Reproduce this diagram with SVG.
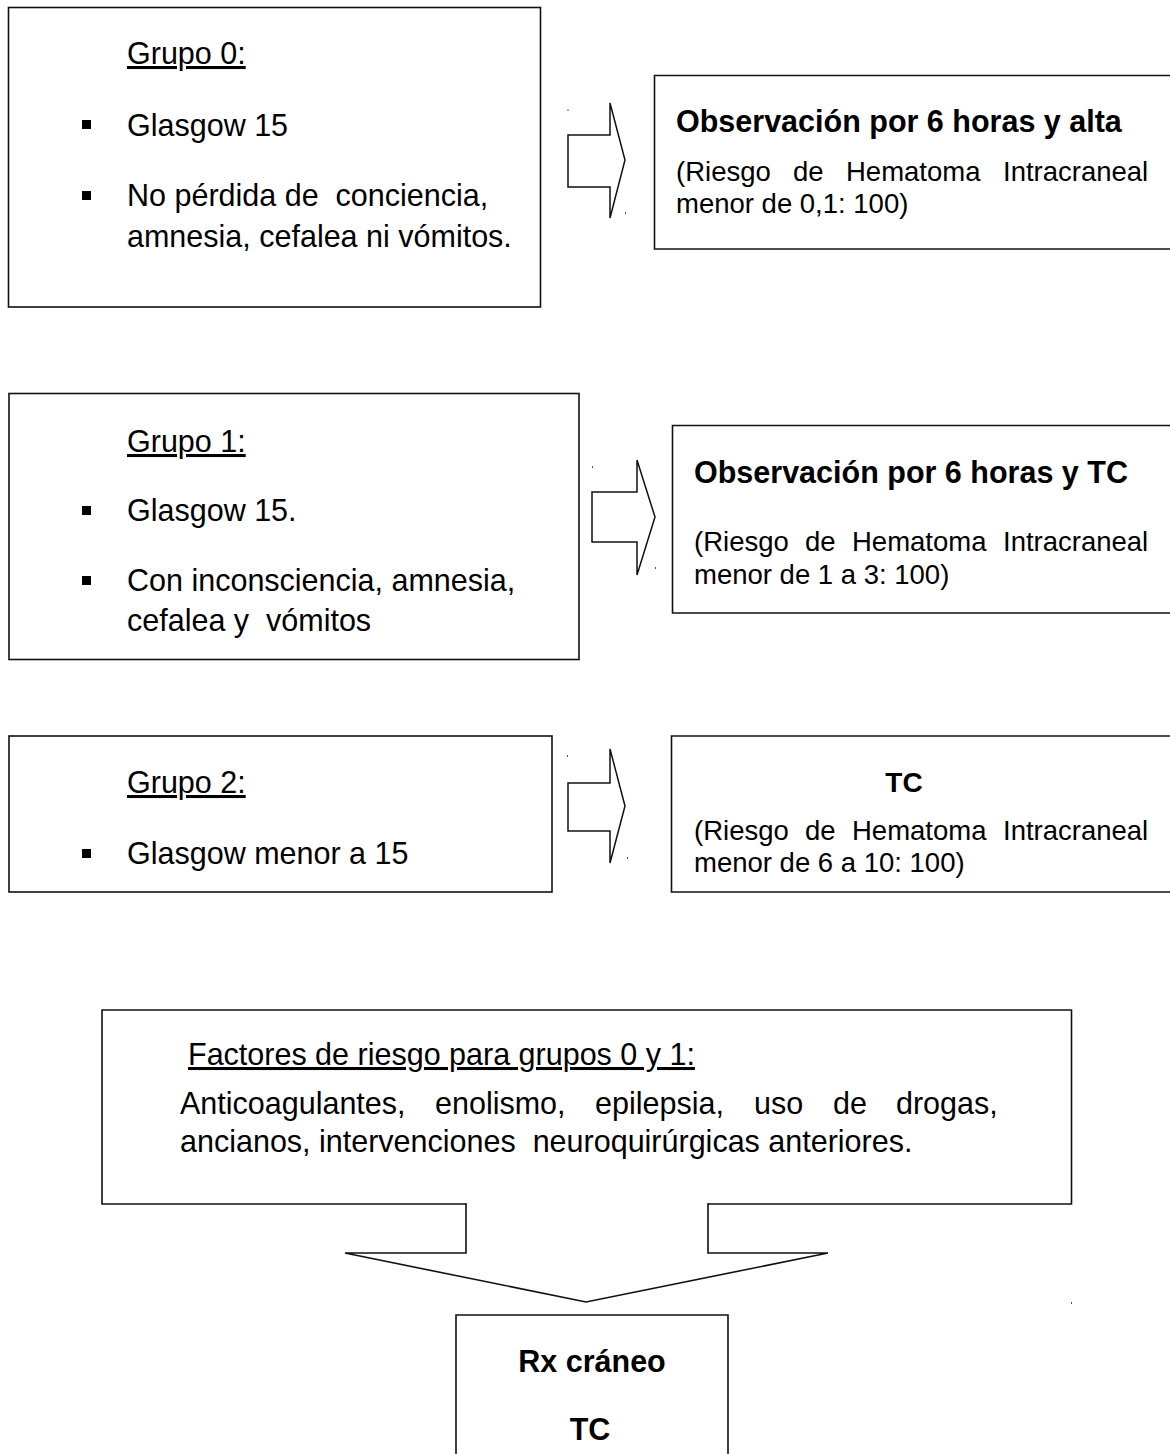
<svg xmlns="http://www.w3.org/2000/svg" width="1170" height="1454" viewBox="0 0 1170 1454">
<style>
.box{fill:#fff;stroke:#111;stroke-width:1.6}
.open{fill:none;stroke:#111;stroke-width:1.6}
.arr{fill:#fff;stroke:#111;stroke-width:1.5;stroke-linejoin:miter}
text{font-family:"Liberation Sans",Arial,sans-serif;fill:#000}
.t{font-size:30.5px}
.d{font-size:27.5px}
.b{font-size:30.5px;font-weight:bold}
.u{text-decoration:underline}
.bul{fill:#000}
.dot{fill:#555}
</style>
<rect width="1170" height="1454" fill="#fff"/>

<g id="grupo0">
<rect class="box" x="8.5" y="7.5" width="532" height="299.5"/>
<text class="t u" x="127" y="64">Grupo 0:</text>
<rect class="bul" x="82" y="120" width="9" height="9"/>
<text class="t" x="127" y="136">Glasgow 15</text>
<rect class="bul" x="82" y="191" width="9" height="9"/>
<text class="t" x="127" y="206" xml:space="preserve">No pérdida de  conciencia,</text>
<text class="t" x="127" y="247">amnesia, cefalea ni vómitos.</text>
</g>

<g id="resultado0">
<path class="open" d="M1175,75.5 H654.5 V249 H1175"/>
<text class="b" x="676" y="132">Observación por 6 horas y alta</text>
<text class="d" y="181"><tspan x="676">(Riesgo</tspan><tspan x="793">de</tspan><tspan x="846">Hematoma</tspan><tspan x="1003">Intracraneal</tspan></text>
<text class="d" x="676" y="213">menor de 0,1: 100)</text>
</g>

<g id="grupo1">
<rect class="box" x="9" y="393.5" width="570" height="266"/>
<text class="t u" x="127" y="452">Grupo 1:</text>
<rect class="bul" x="82" y="506" width="9" height="9"/>
<text class="t" x="127" y="521">Glasgow 15.</text>
<rect class="bul" x="82" y="576" width="9" height="9"/>
<text class="t" x="127" y="591">Con inconsciencia, amnesia,</text>
<text class="t" x="127" y="631" xml:space="preserve">cefalea y  vómitos</text>
</g>

<g id="resultado1">
<path class="open" d="M1175,425.5 H672.5 V613 H1175"/>
<text class="b" x="694" y="483">Observación por 6 horas y TC</text>
<text class="d" y="551"><tspan x="694">(Riesgo</tspan><tspan x="805">de</tspan><tspan x="852">Hematoma</tspan><tspan x="1003">Intracraneal</tspan></text>
<text class="d" x="694" y="584">menor de 1 a 3: 100)</text>
</g>

<g id="grupo2">
<rect class="box" x="9" y="736" width="543" height="156"/>
<text class="t u" x="127" y="793">Grupo 2:</text>
<rect class="bul" x="82" y="849" width="9" height="9"/>
<text class="t" x="127" y="864">Glasgow menor a 15</text>
</g>

<g id="resultado2">
<path class="open" d="M1175,736 H671.5 V892 H1175"/>
<text class="b" x="904" y="792" text-anchor="middle" style="font-size:28px">TC</text>
<text class="d" y="840"><tspan x="694">(Riesgo</tspan><tspan x="805">de</tspan><tspan x="852">Hematoma</tspan><tspan x="1003">Intracraneal</tspan></text>
<text class="d" x="694" y="872">menor de 6 a 10: 100)</text>
</g>

<g id="factores">
<path class="open" d="M466,1204 H102 V1010 H1071.5 V1204 H708"/>
<text class="t u" x="188" y="1065">Factores de riesgo para grupos 0 y 1:</text>
<text class="t" y="1114"><tspan x="180">Anticoagulantes,</tspan><tspan x="435">enolismo,</tspan><tspan x="595">epilepsia,</tspan><tspan x="754">uso</tspan><tspan x="833">de</tspan><tspan x="896">drogas,</tspan></text>
<text class="t" x="180" y="1152" xml:space="preserve">ancianos, intervenciones  neuroquirúrgicas anteriores.</text>
</g>

<g id="rx">
<path class="open" d="M456,1460 V1315 H728 V1460"/>
<text class="b" x="592" y="1372" text-anchor="middle">Rx cráneo</text>
<text class="b" x="590" y="1440" text-anchor="middle">TC</text>
</g>

<g id="connectors">
<path class="arr" d="M568,135 H610 V103 L625,160 L610,218 V187 H568 Z"/>
<path class="arr" d="M592,492 H637 V460 L655,517 L637,575 V542 H592 Z"/>
<path class="arr" d="M568,783 H610 V749 L625,806 L610,863 V831 H568 Z"/>
<path class="open" d="M466,1203 V1253 H345 L586,1302 L828,1253 H708 V1203"/>
<rect class="dot" x="567.5" y="109" width="1" height="2"/>
<rect class="dot" x="625" y="212" width="1" height="2"/>
<rect class="dot" x="592" y="466" width="1" height="2"/>
<rect class="dot" x="655" y="567" width="1" height="2"/>
<rect class="dot" x="567" y="755" width="1" height="2"/>
<rect class="dot" x="627" y="857" width="1" height="2"/>
<rect class="dot" x="1071" y="1302" width="1" height="2"/>
</g>
</svg>
